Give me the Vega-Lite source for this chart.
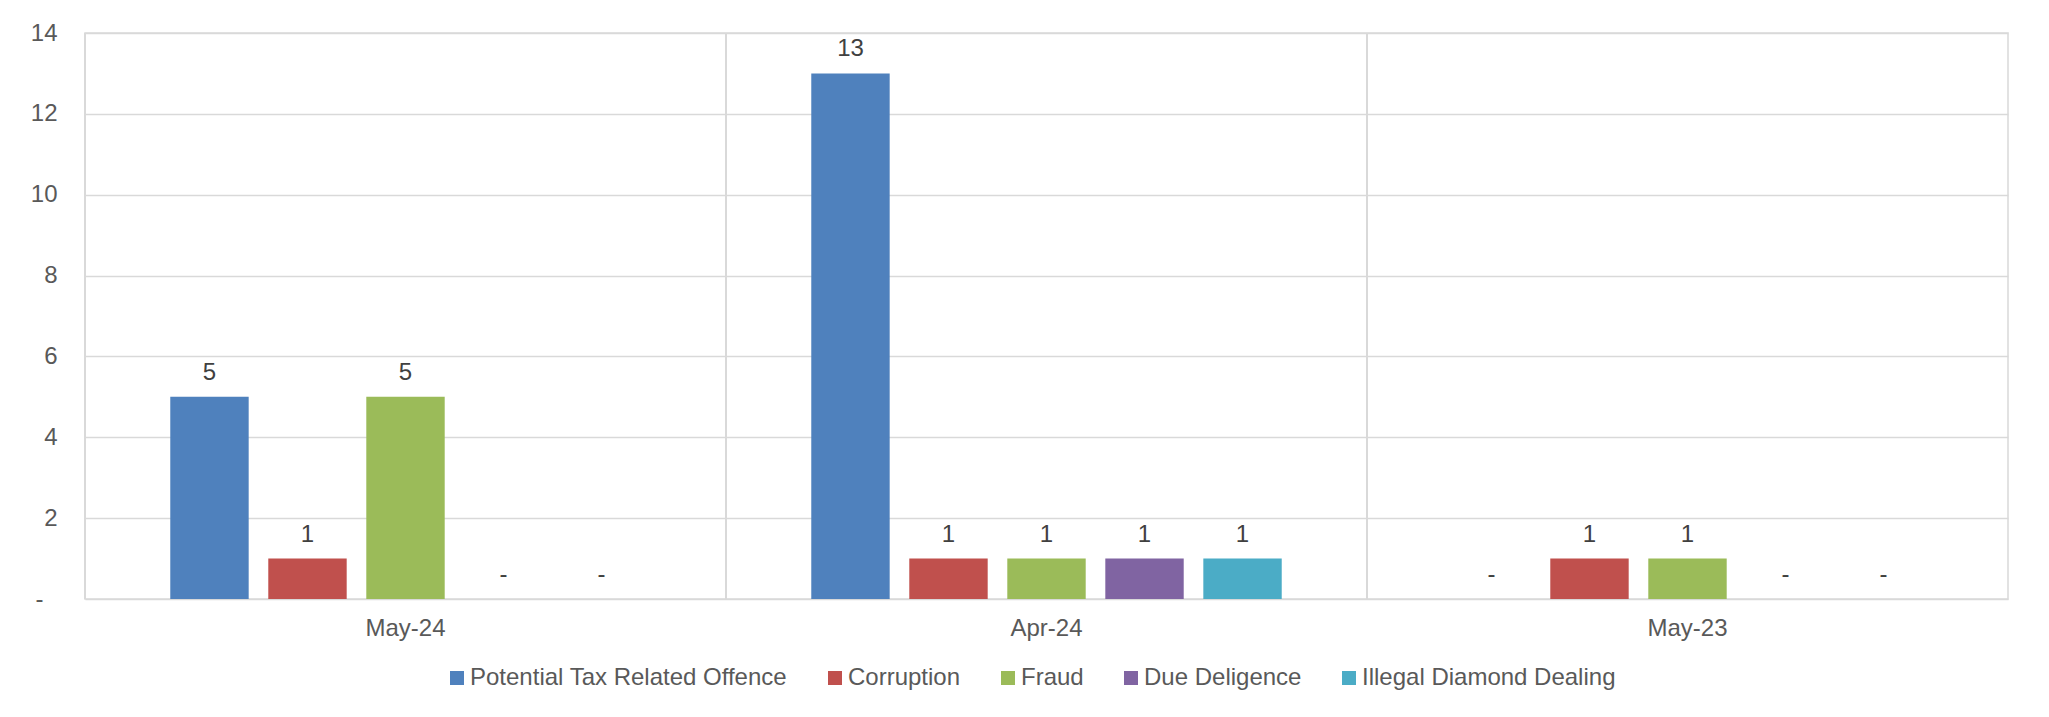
{
  "$schema": "https://vega.github.io/schema/vega-lite/v6.json",
  "width": 1923,
  "height": 566,
  "autosize": {"type": "none"},
  "padding": {"left": 85, "top": 33, "right": 41, "bottom": 118},
  "background": "white",
  "config": {
    "font": "Liberation Sans",
    "view": {"stroke": "#d9d9d9", "strokeWidth": 1.5}
  },
  "data": {
    "values": [
      {"month": "May-24", "category": "Potential Tax Related Offence", "value": 5},
      {"month": "May-24", "category": "Corruption", "value": 1},
      {"month": "May-24", "category": "Fraud", "value": 5},
      {"month": "May-24", "category": "Due Deligence", "value": 0},
      {"month": "May-24", "category": "Illegal Diamond Dealing", "value": 0},
      {"month": "Apr-24", "category": "Potential Tax Related Offence", "value": 13},
      {"month": "Apr-24", "category": "Corruption", "value": 1},
      {"month": "Apr-24", "category": "Fraud", "value": 1},
      {"month": "Apr-24", "category": "Due Deligence", "value": 1},
      {"month": "Apr-24", "category": "Illegal Diamond Dealing", "value": 1},
      {"month": "May-23", "category": "Potential Tax Related Offence", "value": 0},
      {"month": "May-23", "category": "Corruption", "value": 1},
      {"month": "May-23", "category": "Fraud", "value": 1},
      {"month": "May-23", "category": "Due Deligence", "value": 0},
      {"month": "May-23", "category": "Illegal Diamond Dealing", "value": 0}
    ]
  },
  "layer": [
    {
      "mark": {"type": "bar"},
      "encoding": {
        "x": {"field": "month", "type": "nominal", "sort": null,
              "scale": {"paddingInner": 0, "paddingOuter": 0},
              "axis": {"title": null, "labelAngle": 0, "labelAlign": "center", "labelFontSize": 24, "labelColor": "#595959",
                       "labelPadding": 17, "ticks": false, "domain": false, "grid": false}},
        "xOffset": {"field": "category", "type": "nominal",
                    "sort": ["Potential Tax Related Offence", "Corruption", "Fraud", "Due Deligence", "Illegal Diamond Dealing"],
                    "scale": {"paddingInner": 0.2, "paddingOuter": 0.87}},
        "y": {"field": "value", "type": "quantitative", "scale": {"domain": [0, 14]},
              "axis": {"title": null, "values": [0, 2, 4, 6, 8, 10, 12, 14],
                       "labelExpr": "datum.value == 0 ? '-' : datum.label",
                       "labelFontSize": 24, "labelColor": "#595959",
                       "labelPadding": {"condition": {"test": "datum.value == 0", "value": 42}, "value": 28},
                       "ticks": false, "domain": false, "grid": true, "gridColor": "#d9d9d9", "gridWidth": 1.5}},
        "color": {"field": "category", "type": "nominal",
                  "sort": ["Potential Tax Related Offence", "Corruption", "Fraud", "Due Deligence", "Illegal Diamond Dealing"],
                  "scale": {"domain": ["Potential Tax Related Offence", "Corruption", "Fraud", "Due Deligence", "Illegal Diamond Dealing"],
                            "range": ["#4f81bd", "#c0504d", "#9bbb59", "#8064a2", "#4bacc6"]},
                  "legend": {"orient": "none", "legendX": 360, "legendY": 633, "direction": "horizontal",
                             "title": null, "symbolType": "square", "symbolSize": 196, "symbolStrokeWidth": 0,
                             "labelFontSize": 24, "labelColor": "#595959", "columnPadding": 35, "labelLimit": 0,
                             "labelOffset": 1, "padding": 0}}
      }
    },
    {
      "mark": {"type": "rule", "color": "#d9d9d9", "strokeWidth": 1.5},
      "encoding": {
        "x": {"field": "month", "type": "nominal", "sort": null, "bandPosition": 0}
      }
    },
    {
      "mark": {"type": "text", "dy": -17, "baseline": "alphabetic", "fontSize": 24, "color": "#404040"},
      "encoding": {
        "x": {"field": "month", "type": "nominal", "sort": null},
        "xOffset": {"field": "category", "type": "nominal",
                    "sort": ["Potential Tax Related Offence", "Corruption", "Fraud", "Due Deligence", "Illegal Diamond Dealing"]},
        "y": {"field": "value", "type": "quantitative"},
        "text": {"condition": {"test": "datum.value == 0", "value": "-"}, "field": "value", "type": "quantitative"}
      }
    }
  ]
}
